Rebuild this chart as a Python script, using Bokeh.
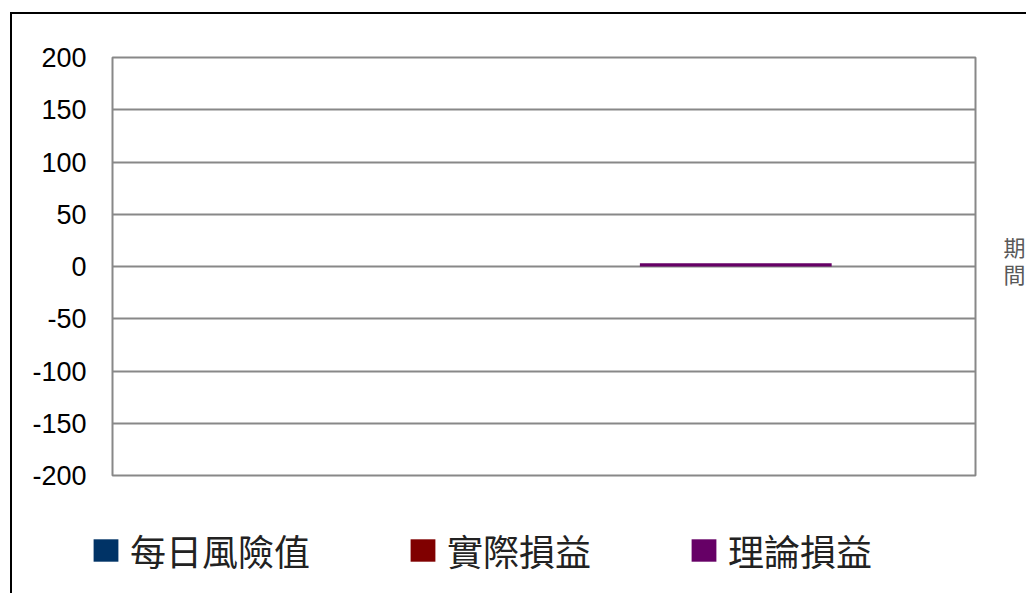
from bokeh.plotting import figure
from bokeh.layouts import column, row
from bokeh.models import (FactorRange, Range1d, Legend, LegendItem, LinearAxis,
                          FixedTicker, ColumnDataSource)
from bokeh.transform import dodge
from bokeh.embed import file_html
from bokeh.resources import INLINE

categories = ["期間"]
series_names = ["每日風險值", "實際損益", "理論損益"]
var_values = [0]
actual_values = [0]
theory_values = [3]
series_colors = ["#003366", "#800000", "#660066"]
y_ticks = [-200, -150, -100, -50, 0, 50, 100, 150, 200]
y_tick_labels = ["-200", "-150", "-100", "-50", "0", "50", "100", "150", "200"]

src = ColumnDataSource(dict(cat=categories, v0=var_values, v1=actual_values, v2=theory_values))

p = figure(x_range=FactorRange(*categories), y_range=Range1d(-200, 200),
           width=1016, height=481, output_backend="svg", toolbar_location=None,
           min_border_left=100, min_border_top=43, min_border_right=53, min_border_bottom=20,
           styles={"border-left": "2px solid black", "border-top": "2px solid black"})
p.margin = (12, 0, 0, 10)
p.background_fill_color = "white"
p.border_fill_color = "white"
p.outline_line_color = "#888888"
p.outline_line_width = 2

p.xaxis.visible = False
p.xgrid.grid_line_color = None

p.yaxis.ticker = FixedTicker(ticks=y_ticks)
p.yaxis.major_label_overrides = dict(zip(y_ticks, y_tick_labels))
p.yaxis.axis_line_color = None
p.yaxis.major_tick_line_color = None
p.yaxis.major_tick_out = 0
p.yaxis.major_tick_in = 0
p.yaxis.minor_tick_line_color = None
p.yaxis.major_label_text_font = "Liberation Sans"
p.yaxis.major_label_text_font_size = "27px"
p.yaxis.major_label_text_color = "black"
p.yaxis.major_label_standoff = 26

p.ygrid.ticker = FixedTicker(ticks=y_ticks)
p.ygrid.grid_line_color = "#888888"
p.ygrid.grid_line_width = 2

w = 1 / 4.5
offsets = [-w, 0, w]
cols = ["v0", "v1", "v2"]
for off, col, color in zip(offsets, cols, series_colors):
    p.vbar(x=dodge("cat", off, range=p.x_range), top=col, bottom=0, width=w,
           source=src, fill_color=color, line_color=None)

# category name shown at the right side, one character per line
cat_chars = list(categories[0])
cat_char_pos = [20, -6]
right_axis = LinearAxis(ticker=FixedTicker(ticks=cat_char_pos),
                        major_label_overrides=dict(zip(cat_char_pos, cat_chars)),
                        axis_line_color=None, major_tick_line_color=None,
                        major_tick_out=0, major_tick_in=0,
                        minor_tick_line_color=None, major_label_standoff=28,
                        major_label_text_font="Noto Sans CJK TC",
                        major_label_text_font_size="22px",
                        major_label_text_color="#595959")
p.add_layout(right_axis, "right")

# legend strip below the chart (its bars lie outside its visible range)
lg = figure(width=1016, height=100, output_backend="svg", toolbar_location=None,
            x_axis_type=None, y_axis_type=None,
            x_range=FactorRange(*categories), y_range=Range1d(1000, 1001),
            min_border_left=0, min_border_right=0, min_border_top=0, min_border_bottom=0,
            styles={"border-left": "2px solid black"})
lg.margin = (0, 0, 0, 10)
lg.outline_line_color = None
lg.grid.visible = False
lg.border_fill_color = "white"
legend_renderers = []
for off, col, color in zip(offsets, cols, series_colors):
    legend_renderers.append(lg.vbar(x=dodge("cat", off, range=lg.x_range), top=col, bottom=0,
                                    width=w, source=src, fill_color=color, line_color=None))

legend = Legend(items=[LegendItem(label=n, renderers=[r]) for n, r in zip(series_names, legend_renderers)],
                orientation="horizontal", location=(78, 17),
                glyph_width=31, glyph_height=28, label_standoff=9, spacing=97,
                padding=0, margin=0, border_line_color=None, background_fill_alpha=0,
                label_text_font="Noto Sans CJK TC", label_text_font_size="36px",
                label_text_color="#222222")
lg.add_layout(legend)

layout = column(p, row(lg), spacing=0)
open("out.html", "w").write(file_html(layout, INLINE))
